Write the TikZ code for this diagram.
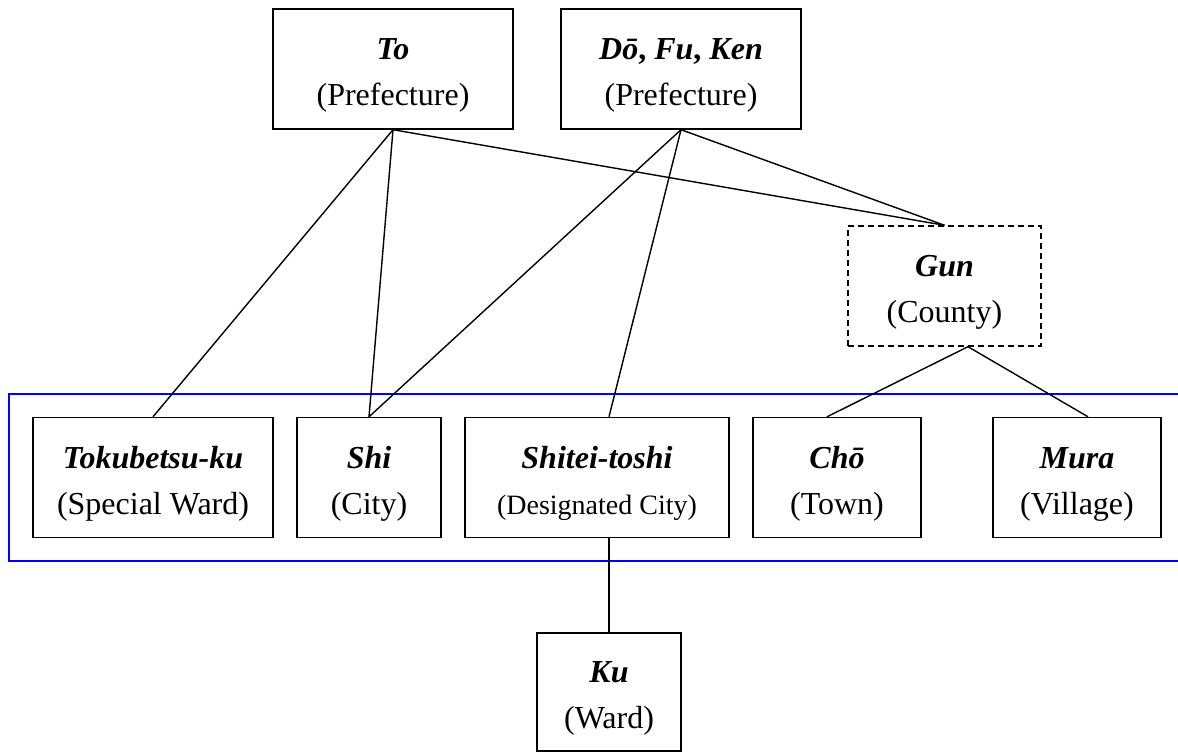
\documentclass[tikz,border=0pt]{standalone}
\usepackage{fontspec}
\setmainfont{Liberation Serif}
\usetikzlibrary{calc}

% two-line label: Japanese term over English gloss
\newcommand{\tier}[2]{\rule{0pt}{17pt}\textbf{\textit{#1}}\\#2}

\begin{document}
\begin{tikzpicture}[%
    x=0.5pt,y=-0.5pt,
    box/.style={draw,line width=0.7pt,align=center,inner sep=0pt,
      minimum height=60pt,font=\fontsize{16}{23}\selectfont},
    link/.style={line width=0.7pt},
    zone/.style={draw=blue,line width=0.8pt}
  ]
		\useasboundingbox (0,0) rectangle (1178,753);

		% municipalities frame (open to the right)
		\draw[zone] (1178,394) -- (9,394) -- (9,561) -- (1178,561);

		\node at (153,477.5) [box,minimum width=120pt] (tok) {\tier{Tokubetsu-ku}{(Special Ward)}};
		\node at (369,477.5) [box,minimum width=72pt] (shi) {\tier{Shi}{(City)}};
		\node at (597,477.5) [box,minimum width=132pt] (shitei) {\tier{Shitei-toshi}{{\fontsize{14}{20}\selectfont(Designated City)}}};
		\node at (837,477.5) [box,minimum width=84pt] (cho) {\tier{Chō}{(Town)}};
		\node at (1077,477.5) [box,minimum width=84pt] (mura) {\tier{Mura}{(Village)}};

		\node at (609,692) [box,minimum width=72pt,minimum height=59pt] (ku) {\tier{Ku}{(Ward)}};

		\node at (944.5,286) [box,dash pattern=on 3pt off 2pt,minimum width=96.5pt] (gun) {\tier{Gun}{(County)}};

		\node at (393,69) [box,minimum width=120pt] (to) {\tier{To}{(Prefecture)}};
		\node at (681,69) [box,minimum width=120pt] (dfk) {\tier{Dō\textup{,} Fu\textup{,} Ken}{(Prefecture)}};

		\draw[link] (to.south) -- (tok.north);
		\draw[link] (to.south) -- (shi.north);
		\draw[link] (to.south) -- (gun.north);

		\draw[link] (dfk.south) -- (shi.north);
		\draw[link] (dfk.south) -- (shitei.north -| ku.north);
		\draw[link] (dfk.south) -- (gun.north);

		\draw[link] ($(gun.south)+(23.5,0)$) -- ($(cho.north)+(-10,0)$);
		\draw[link] ($(gun.south)+(23.5,0)$) -- ($(mura.north)+(11,0)$);

		\draw[link] (shitei.south -| ku.north) -- (ku.north);
	\end{tikzpicture}
\end{document}
